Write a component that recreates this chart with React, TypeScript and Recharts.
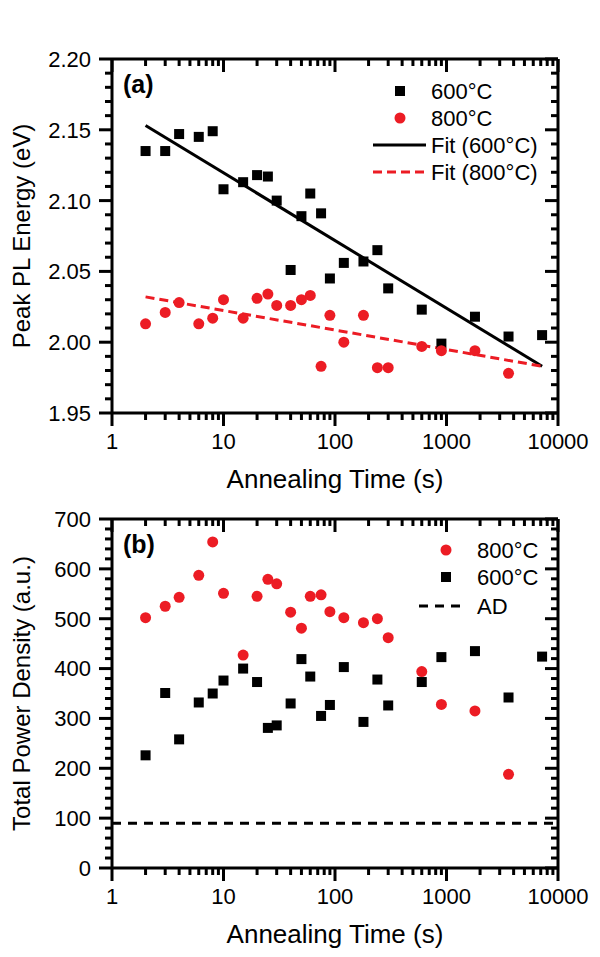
import React from 'react';
import {
    ComposedChart,
    Scatter,
    Line,
    XAxis,
    YAxis,
    Legend,
    ReferenceLine,
    Label,
} from 'recharts';

const FONT = '"Liberation Sans", Arial, Helvetica, sans-serif';
const RED = '#ec1c24';
const BLACK = '#000000';

// annealing times (s)
const times600 = [2, 3, 4, 6, 8, 10, 15, 20, 25, 30, 40, 50, 60, 75, 90, 120, 180, 240, 300, 600, 900, 1800, 3600, 7200];
const times800 = [2, 3, 4, 6, 8, 10, 15, 20, 25, 30, 40, 50, 60, 75, 90, 120, 180, 240, 300, 600, 900, 1800, 3600];

// (a) peak PL energy (eV)
const peak600 = [2.135, 2.135, 2.147, 2.145, 2.149, 2.108, 2.113, 2.118, 2.117, 2.100, 2.051, 2.089, 2.105, 2.091, 2.045, 2.056, 2.057, 2.065, 2.038, 2.023, 1.999, 2.018, 2.004, 2.005];
const peak800 = [2.013, 2.021, 2.028, 2.013, 2.017, 2.030, 2.017, 2.031, 2.034, 2.026, 2.026, 2.030, 2.033, 1.983, 2.019, 2.000, 2.019, 1.982, 1.982, 1.997, 1.994, 1.994, 1.978];
const fitTimes = [2, 7200];
const fitPeak600 = [2.153, 1.983];
const fitPeak800 = [2.032, 1.983];

// (b) total power density (a.u.)
const power800 = [502, 525, 543, 587, 654, 551, 427, 545, 579, 570, 513, 481, 545, 548, 514, 502, 492, 500, 462, 394, 328, 315, 188];
const power600 = [226, 351, 258, 332, 350, 376, 400, 373, 281, 286, 330, 419, 384, 305, 327, 403, 293, 378, 326, 373, 423, 435, 342, 424];
const adLevel = 90;

// ticks
const timeTicks = [1, 10, 100, 1000, 10000];
const timeMinor = timeTicks.slice(0, -1).flatMap((d) => [2, 3, 4, 5, 6, 7, 8, 9].map((k) => k * d));
const energyTicks = [1.95, 2.0, 2.05, 2.1, 2.15, 2.2];
const energyMinor = energyTicks.slice(0, -1).flatMap((m) => [0.01, 0.02, 0.03, 0.04].map((d) => +(m + d).toFixed(2)));
const powerTicks = [0, 100, 200, 300, 400, 500, 600, 700];
const powerMinor = powerTicks.slice(0, -1).flatMap((m) => [20, 40, 60, 80].map((d) => m + d));

const toPts = (xs: number[], ys: number[]) => xs.map((t, i) => ({ t, v: ys[i] }));

const isMajor = (list: number[], v: number) => list.some((m) => Math.abs(m - v) < 1e-9);

// x ticks: lines always point downward (outward at the bottom, inward at the top)
const xTick = (majors: number[], showLabel: boolean, y0?: number) => (props: any) => {
    const { x, payload } = props;
    const y = y0 !== undefined ? y0 : props.y;
    const major = isMajor(majors, payload.value);
    return (
        <g>
            <line x1={x} x2={x} y1={y} y2={y + (major ? 13 : 7)} stroke={BLACK} strokeWidth={3} />
            {showLabel && major && (
                <text x={x} y={y + 36} textAnchor="middle" fontFamily={FONT} fontSize={22} fill={BLACK}>
                    {payload.value}
                </text>
            )}
        </g>
    );
};

// y ticks: lines always point left (outward on the left, inward on the right)
const yTick = (majors: number[], fmt: (v: number) => string, showLabel: boolean) => (props: any) => {
    const { x, y, payload } = props;
    const major = isMajor(majors, payload.value);
    return (
        <g>
            <line x1={x - (major ? 13 : 7)} x2={x} y1={y} y2={y} stroke={BLACK} strokeWidth={3} />
            {showLabel && major && (
                <text x={x - 21} y={y} dy="0.36em" textAnchor="end" fontFamily={FONT} fontSize={22} fill={BLACK}>
                    {fmt(payload.value)}
                </text>
            )}
        </g>
    );
};

const yTitle = (text: string) => (props: any) => {
    const vb = props.viewBox || {};
    const cx = vb.x + vb.width - 82;
    const cy = vb.y + vb.height / 2;
    return (
        <text x={cx} y={cy} transform={`rotate(-90 ${cx} ${cy})`} textAnchor="middle" fontFamily={FONT} fontSize={24} fill={BLACK}>
            {text}
        </text>
    );
};

const xTitle = (text: string) => (props: any) => {
    const vb = props.viewBox || {};
    return (
        <text x={vb.x + vb.width / 2} y={vb.y + 75} textAnchor="middle" fontFamily={FONT} fontSize={26} fill={BLACK}>
            {text}
        </text>
    );
};

const panelTag = (text: string) => (props: any) => {
    const vb = props.viewBox || {};
    return (
        <text x={vb.x + 11} y={vb.y + vb.height + 34} fontFamily={FONT} fontSize={25} fontWeight="bold" fill={BLACK}>
            {text}
        </text>
    );
};

const squareShape = (p: any) => <rect x={p.cx - 5} y={p.cy - 5} width={10} height={10} fill={BLACK} />;
const circleShape = (p: any) => <circle cx={p.cx} cy={p.cy} r={5.5} fill={RED} />;

type LegendRow = { label: string; kind: 'square' | 'circle' | 'solid' | 'dash' | 'blackdash' };

const legendRowsA: LegendRow[] = [
    { label: '600°C', kind: 'square' },
    { label: '800°C', kind: 'circle' },
    { label: 'Fit (600°C)', kind: 'solid' },
    { label: 'Fit (800°C)', kind: 'dash' },
];
const legendRowsB: LegendRow[] = [
    { label: '800°C', kind: 'circle' },
    { label: '600°C', kind: 'square' },
    { label: 'AD', kind: 'blackdash' },
];

const renderLegend = (rows: LegendRow[], markX: number, lineX1: number, lineX2: number, textX: number, rowY: number[]) => () => (
    <svg width={220} height={120} style={{ display: 'block' }}>
        {rows.map((r, i) => {
            const cy = rowY[i];
            return (
                <g key={r.label}>
                    {r.kind === 'square' && <rect x={markX - 5} y={cy - 5} width={10} height={10} fill={BLACK} />}
                    {r.kind === 'circle' && <circle cx={markX} cy={cy} r={5.5} fill={RED} />}
                    {r.kind === 'solid' && <line x1={lineX1} x2={lineX2} y1={cy} y2={cy} stroke={BLACK} strokeWidth={3} />}
                    {r.kind === 'dash' && <line x1={lineX1} x2={lineX2} y1={cy} y2={cy} stroke={RED} strokeWidth={3} strokeDasharray="9 5" />}
                    {r.kind === 'blackdash' && <line x1={lineX1} x2={lineX2} y1={cy} y2={cy} stroke={BLACK} strokeWidth={3} strokeDasharray="9 7" />}
                    <text x={textX} y={cy} dy="0.36em" fontFamily={FONT} fontSize={22} fill={BLACK}>
                        {r.label}
                    </text>
                </g>
            );
        })}
    </svg>
);

const axisLine = { stroke: BLACK, strokeWidth: 3 };
const allTimeTicks = [...timeTicks, ...timeMinor].sort((a, b) => a - b);

const timeAxes = (title: string, tag: string) => [
    <XAxis
        key="xb"
        dataKey="t"
        type="number"
        scale="log"
        domain={[1, 10000]}
        allowDataOverflow
        ticks={allTimeTicks}
        interval={0}
        tickSize={0}
        tickMargin={0}
        tickLine={false}
        axisLine={axisLine}
        tick={xTick(timeTicks, true)}
        height={85}
    >
        <Label content={xTitle(title)} />
    </XAxis>,
    <XAxis
        key="xt"
        xAxisId="top"
        orientation="top"
        dataKey="t"
        type="number"
        scale="log"
        domain={[1, 10000]}
        allowDataOverflow
        ticks={allTimeTicks}
        interval={0}
        tickSize={0}
        tickMargin={0}
        tickLine={false}
        axisLine={axisLine}
        tick={xTick(timeTicks, false, 59)}
        height={1}
    >
        <Label content={panelTag(tag)} />
    </XAxis>,
];

const energyAll = [...energyTicks, ...energyMinor].sort((a, b) => a - b);
const powerAll = [...powerTicks, ...powerMinor].sort((a, b) => a - b);

const PanelA = () => (
    <ComposedChart width={600} height={500} margin={{ top: 58, right: 41, left: 42, bottom: 2 }}>
        {timeAxes('Annealing Time (s)', '(a)')}
        <YAxis
            dataKey="v"
            type="number"
            domain={[1.95, 2.2]}
            allowDataOverflow
            ticks={energyAll}
            interval={0}
            tickSize={0}
            tickMargin={0}
            tickLine={false}
            axisLine={axisLine}
            tick={yTick(energyTicks, (v) => v.toFixed(2), true)}
            width={70}
        >
            <Label content={yTitle('Peak PL Energy (eV)')} />
        </YAxis>
        <YAxis
            yAxisId="right"
            orientation="right"
            dataKey="v"
            type="number"
            domain={[1.95, 2.2]}
            allowDataOverflow
            ticks={energyAll}
            interval={0}
            tickSize={0}
            tickMargin={0}
            tickLine={false}
            axisLine={axisLine}
            tick={yTick(energyTicks, (v) => v.toFixed(2), false)}
            width={1}
        />
        <Line data={toPts(fitTimes, fitPeak600)} dataKey="v" type="linear" stroke={BLACK} strokeWidth={3} dot={false} isAnimationActive={false} />
        <Line data={toPts(fitTimes, fitPeak800)} dataKey="v" type="linear" stroke={RED} strokeWidth={3} strokeDasharray="9 5" dot={false} isAnimationActive={false} />
        <Scatter data={toPts(times600, peak600)} dataKey="v" shape={squareShape} isAnimationActive={false} />
        <Scatter data={toPts(times800, peak800)} dataKey="v" shape={circleShape} isAnimationActive={false} />
        <Line data={toPts(fitTimes, fitPeak600)} dataKey="v" xAxisId="top" yAxisId="right" stroke="none" dot={false} legendType="none" isAnimationActive={false} />
        <Legend
            layout="vertical"
            align="center"
            verticalAlign="middle"
            wrapperStyle={{ left: 365, top: 75, width: 220 }}
            content={renderLegend(legendRowsA, 35, 8, 61, 66, [16, 43, 70, 97])}
        />
    </ComposedChart>
);

const PanelB = () => (
    <ComposedChart width={600} height={497} margin={{ top: 58, right: 41, left: 42, bottom: 4 }}>
        {timeAxes('Annealing Time (s)', '(b)')}
        <YAxis
            dataKey="v"
            type="number"
            domain={[0, 700]}
            allowDataOverflow
            ticks={powerAll}
            interval={0}
            tickSize={0}
            tickMargin={0}
            tickLine={false}
            axisLine={axisLine}
            tick={yTick(powerTicks, (v) => String(v), true)}
            width={70}
        >
            <Label content={yTitle('Total Power Density (a.u.)')} />
        </YAxis>
        <YAxis
            yAxisId="right"
            orientation="right"
            dataKey="v"
            type="number"
            domain={[0, 700]}
            allowDataOverflow
            ticks={powerAll}
            interval={0}
            tickSize={0}
            tickMargin={0}
            tickLine={false}
            axisLine={axisLine}
            tick={yTick(powerTicks, (v) => String(v), false)}
            width={1}
        />
        <ReferenceLine y={adLevel} stroke={BLACK} strokeWidth={3} strokeDasharray="9 7" />
        <Scatter data={toPts(times800, power800)} dataKey="v" shape={circleShape} isAnimationActive={false} />
        <Scatter data={toPts(times600, power600)} dataKey="v" shape={squareShape} isAnimationActive={false} />
        <Line data={toPts(times600, power600)} dataKey="v" xAxisId="top" yAxisId="right" stroke="none" dot={false} legendType="none" isAnimationActive={false} />
        <Legend
            layout="vertical"
            align="center"
            verticalAlign="middle"
            wrapperStyle={{ left: 400, top: 75, width: 220 }}
            content={renderLegend(legendRowsB, 46, 19, 62, 77, [15, 42, 71])}
        />
    </ComposedChart>
);

export default function App() {
    return (
        <div style={{ position: 'absolute', left: 0, top: 0, width: 600, height: 957, background: '#fff', fontFamily: FONT }}>
            <div style={{ position: 'absolute', left: 0, top: 0 }}>
                <PanelA />
            </div>
            <div style={{ position: 'absolute', left: 0, top: 460 }}>
                <PanelB />
            </div>
        </div>
    );
}
